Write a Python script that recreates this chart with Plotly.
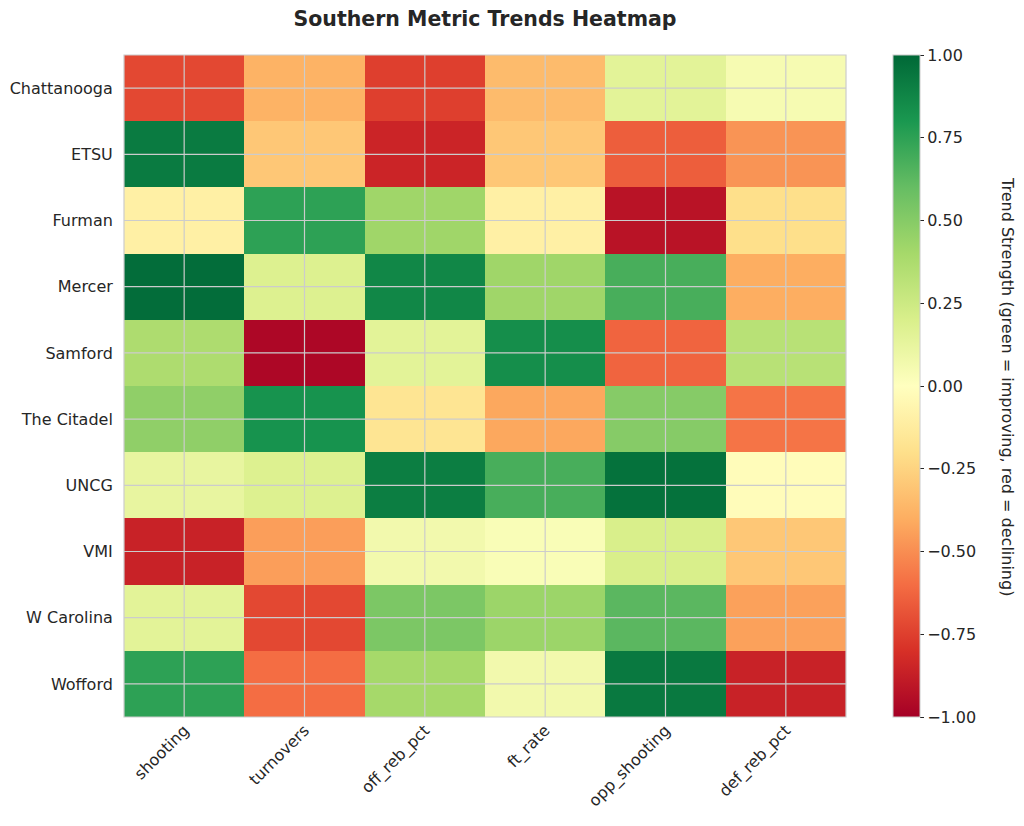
import plotly.graph_objects as go

teams = ["Chattanooga", "ETSU", "Furman", "Mercer", "Samford",
         "The Citadel", "UNCG", "VMI", "W Carolina", "Wofford"]
metrics = ["shooting", "turnovers", "off_reb_pct", "ft_rate", "opp_shooting", "def_reb_pct"]

chattanooga = [-0.72, -0.38, -0.75, -0.35, 0.15, 0.05]
etsu        = [0.92, -0.30, -0.85, -0.30, -0.65, -0.48]
furman      = [-0.10, 0.75, 0.42, -0.10, -0.92, -0.20]
mercer      = [0.98, 0.18, 0.87, 0.42, 0.68, -0.40]
samford     = [0.37, -0.97, 0.15, 0.84, -0.63, 0.33]
citadel     = [0.47, 0.82, -0.17, -0.42, 0.50, -0.58]
uncg        = [0.12, 0.18, 0.91, 0.68, 0.96, -0.02]
vmi         = [-0.86, -0.45, 0.07, 0.03, 0.20, -0.30]
wcarolina   = [0.15, -0.72, 0.53, 0.43, 0.63, -0.44]
wofford     = [0.75, -0.60, 0.40, 0.07, 0.93, -0.86]

z = [chattanooga, etsu, furman, mercer, samford, citadel, uncg, vmi, wcarolina, wofford]

cb_ticks = [-1.0, -0.75, -0.5, -0.25, 0.0, 0.25, 0.5, 0.75, 1.0]

font_family = "DejaVu Sans"
text_color = "#262626"
fs = 16
off = 8  # page body offset

fig = go.Figure()
fig.add_trace(go.Heatmap(
    z=z, x=metrics, y=teams,
    colorscale="RdYlGn", zmin=-1, zmax=1,
    xgap=0, ygap=0,
    colorbar=dict(
        x=(893 - 124) / 722, xanchor="left", xref="paper",
        y=0.5, yanchor="middle", len=1.0, lenmode="fraction",
        thickness=27, thicknessmode="pixels",
        outlinecolor="#cccccc", outlinewidth=1,
        tickvals=cb_ticks, tickformat=".2f",
        ticks="outside", ticklen=4, tickcolor="#262626", tickwidth=1,
        tickfont=dict(family=font_family, size=fs, color=text_color),
        xpad=0, ypad=0,
    ),
))

# gridlines above the heatmap at category centers
shapes = []
for m in metrics:
    shapes.append(dict(type="line", xref="x", yref="paper", x0=m, x1=m, y0=0, y1=1,
                       line=dict(color="#cccccc", width=1.2), layer="above"))
for t in teams:
    shapes.append(dict(type="line", xref="paper", yref="y", x0=0, x1=1, y0=t, y1=t,
                       line=dict(color="#cccccc", width=1.2), layer="above"))
# frame
shapes.append(dict(type="rect", xref="paper", yref="paper", x0=0, x1=1, y0=0, y1=1,
                   line=dict(color="#cccccc", width=1.2), layer="above"))

fig.update_layout(
    width=1024, height=826,
    margin=dict(l=124 - off, r=178 + off, t=55 - off, b=109 + off, autoexpand=False),
    paper_bgcolor="white", plot_bgcolor="white",
    font=dict(family=font_family, color=text_color, size=fs),
    title=dict(text="<b>Southern Metric Trends Heatmap</b>", x=0.5, xref="paper",
               xanchor="center", y=1 - (19 - off) / 826, yanchor="middle", yref="container",
               font=dict(family=font_family, size=20.5, color=text_color)),
    shapes=shapes,
    annotations=[dict(text="Trend Strength (green = improving, red = declining)",
                      xref="paper", yref="paper", x=(1008 - 124) / 722, y=0.5,
                      xanchor="center", yanchor="middle", showarrow=False, textangle=90,
                      font=dict(family=font_family, size=fs, color=text_color))],
)
fig.update_xaxes(showgrid=False, tickangle=-45, ticks="", tickfont=dict(size=fs),
                 showline=False, zeroline=False, automargin=False)
fig.update_yaxes(showgrid=False, autorange="reversed", ticks="", tickfont=dict(size=fs),
                 showline=False, zeroline=False, ticksuffix="  ", automargin=False)

fig.write_html("out.html")
